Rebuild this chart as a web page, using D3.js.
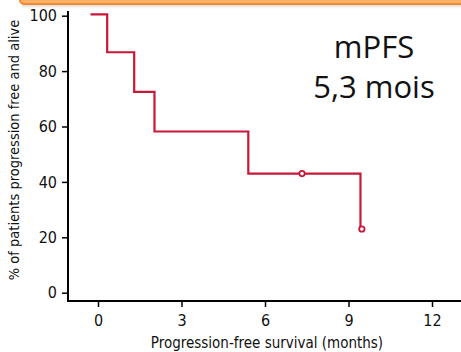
<!DOCTYPE html>
<html>
<head>
<meta charset="utf-8">
<script src="https://cdn.jsdelivr.net/npm/d3@7"></script>
<style>
  body { margin: 0; background: #fff; }
  svg { display: block; }
</style>
</head>
<body>
<div class="chart"></div>
<script>
'use strict';

// Kaplan-Meier steps (months, % alive & progression free)
const stepMonths = [-0.27, 0.33, 1.3, 2.03, 5.4, 9.43];
const stepValues = [100.5, 86.8, 72.5, 58.2, 43.0, 23.0];
const censorMonths = [7.33, 9.48];
const censorValues = [43.0, 23.0];
const xTicks = [0, 3, 6, 9, 12];
const yTicks = [0, 20, 40, 60, 80, 100];
const noteLines = ["mPFS", "5,3 mois"];

(function() {
    const width = 461, height = 352;
    const red = "#c8183a";
    const condensed = "'Liberation Sans Narrow', 'DejaVu Sans Condensed', 'Roboto', sans-serif";

    let svg = d3.select('.chart')
        .append('svg').attr('width', width).attr('height', height);

    // orange box edge peeking in at the top
    let defs = svg.append('defs');
    let grad = defs.append('linearGradient').attr('id', 'shade')
        .attr('x1', 0).attr('y1', 0).attr('x2', 0).attr('y2', 1);
    grad.append('stop').attr('offset', '0%').attr('stop-color', '#bbb').attr('stop-opacity', 0.8);
    grad.append('stop').attr('offset', '100%').attr('stop-color', '#fff').attr('stop-opacity', 0);
    svg.append('rect').attr('x', 22).attr('y', 4).attr('width', 460).attr('height', 6)
        .attr('fill', 'url(#shade)');
    svg.append('rect').attr('x', 20).attr('y', -12).attr('width', 460).attr('height', 16)
        .attr('rx', 4).attr('fill', '#fbb06a').attr('stroke', '#f28a2a').attr('stroke-width', 2);

    let xScale = d3.scaleLinear().domain([0, 12]).range([98, 432]);
    let yScale = d3.scaleLinear().domain([0, 100]).range([292.7, 15.7]);

    // y axis
    let yAxis = d3.axisLeft(yScale).tickValues(yTicks).tickSize(6).tickPadding(5);
    let gy = svg.append('g').attr('transform', 'translate(68, 0)').call(yAxis);
    gy.select('.domain').remove();
    gy.append('line').attr('x1', 0).attr('x2', 0).attr('y1', 11).attr('y2', 302)
        .attr('stroke', '#000').attr('stroke-width', 2);

    // x axis
    let xAxis = d3.axisBottom(xScale).tickValues(xTicks).tickSize(6).tickPadding(8);
    let gx = svg.append('g').attr('transform', 'translate(0, 301)').call(xAxis);
    gx.select('.domain').remove();
    gx.append('line').attr('x1', 67).attr('x2', width).attr('y1', 0).attr('y2', 0)
        .attr('stroke', '#000').attr('stroke-width', 2);

    svg.selectAll('.tick line').attr('stroke', '#000').attr('stroke-width', 1.5);
    svg.selectAll('.tick text').style('font-family', condensed).style('font-size', '16px')
        .attr('fill', '#111');

    // step curve
    let pts = stepMonths.map((m, i) => [m, stepValues[i]]);
    let line = d3.line()
        .x(d => xScale(d[0]))
        .y(d => yScale(d[1]))
        .curve(d3.curveStepAfter);
    svg.append('path').attr('d', line(pts))
        .attr('fill', 'none').attr('stroke', red).attr('stroke-width', 2.2);

    svg.selectAll('.censor')
        .data(censorMonths)
        .enter()
        .append('circle')
        .attr('cx', d => xScale(d))
        .attr('cy', (d, i) => yScale(censorValues[i]))
        .attr('r', 2.7)
        .attr('fill', '#fff')
        .attr('stroke', red)
        .attr('stroke-width', 1.8);

    // axis titles
    svg.append('text')
        .attr('x', 267).attr('y', 348)
        .attr('text-anchor', 'middle')
        .style('font-family', condensed).style('font-size', '15px')
        .attr('fill', '#111')
        .text('Progression-free survival (months)');

    svg.append('text')
        .attr('transform', 'translate(19, 150)rotate(-90)')
        .attr('text-anchor', 'middle')
        .style('font-family', condensed).style('font-size', '14.5px')
        .attr('fill', '#111')
        .text('% of patients progression free and alive');

    // annotation
    svg.selectAll('.note')
        .data(noteLines)
        .enter()
        .append('text')
        .attr('x', 374)
        .attr('y', (d, i) => 58 + i * 40)
        .attr('text-anchor', 'middle')
        .style('font-family', "'Open Sans', 'Liberation Sans', sans-serif")
        .style('font-size', '31px')
        .attr('fill', '#111')
        .text(d => d);
})();
</script>
</body>
</html>
